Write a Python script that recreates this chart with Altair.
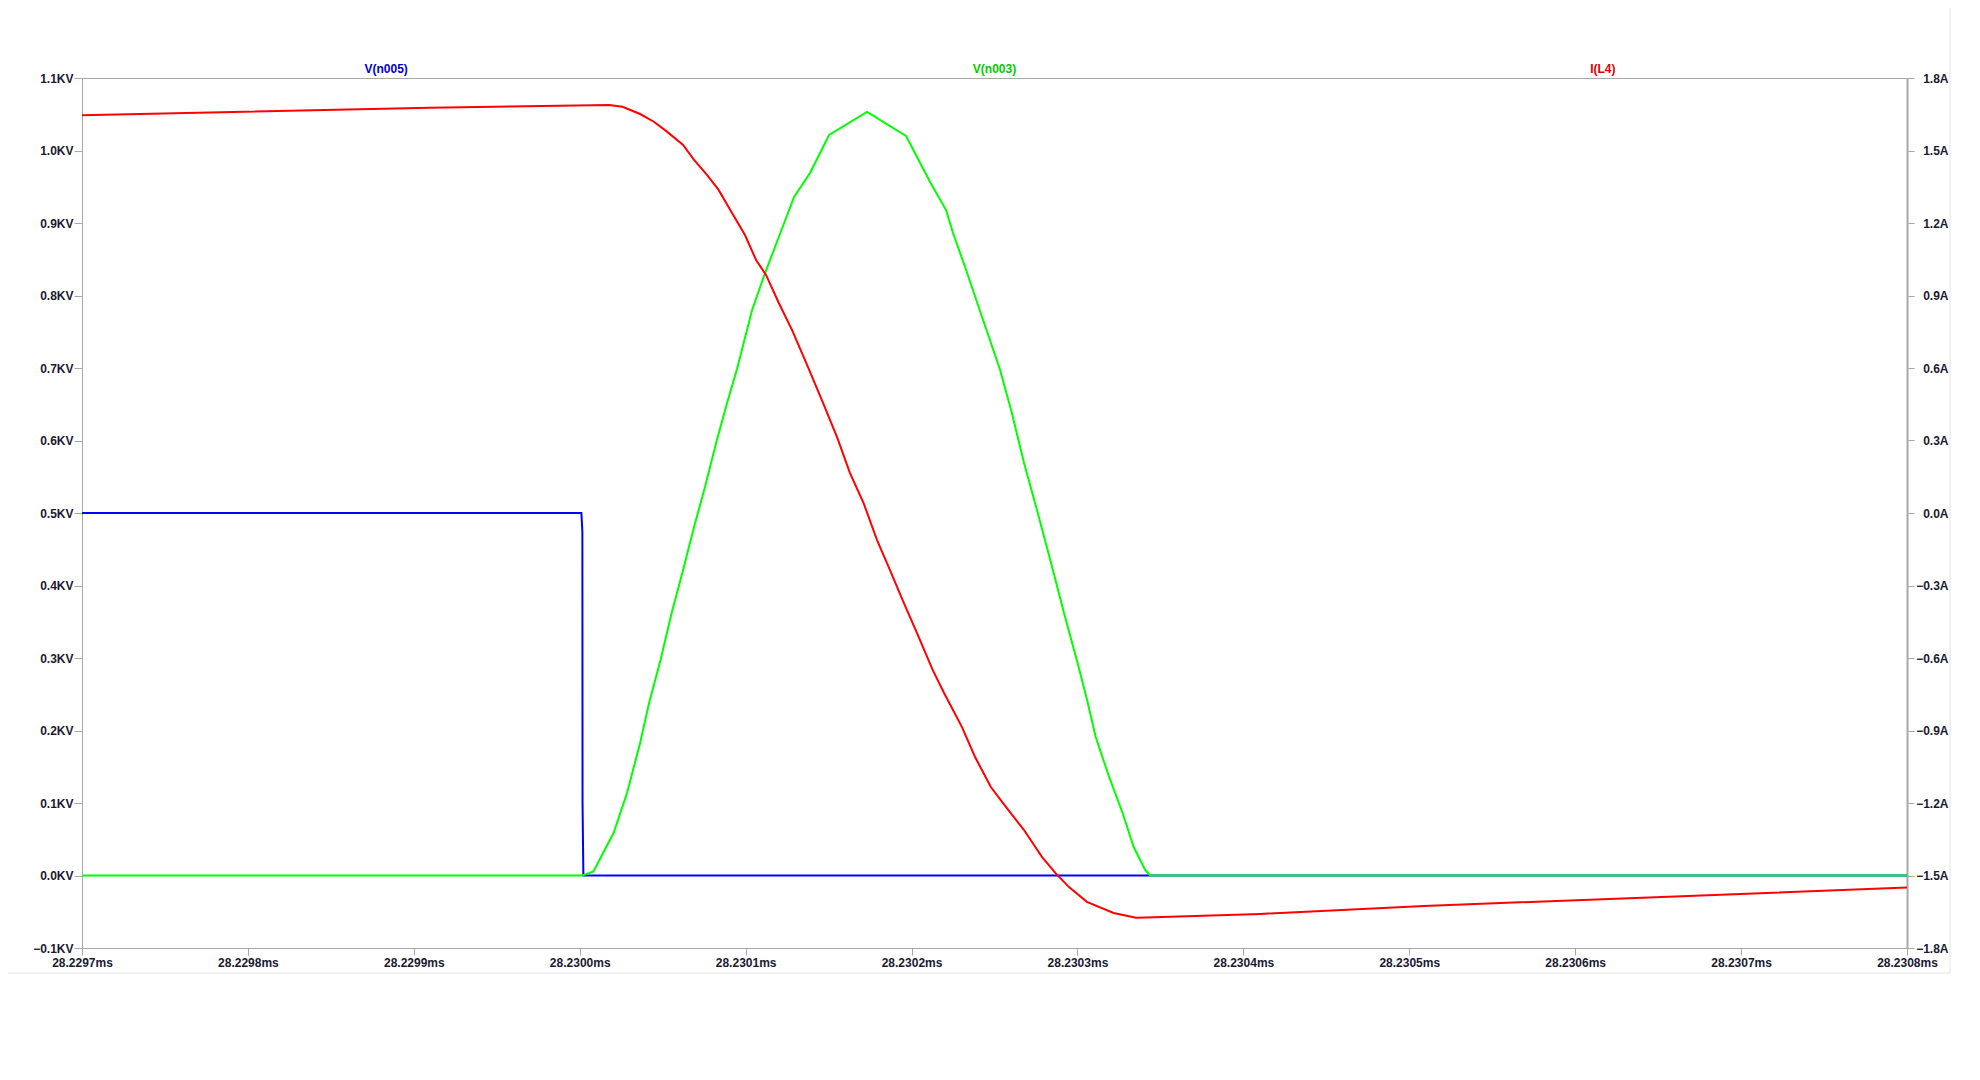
import altair as alt
import pandas as pd

# ---------------- data ----------------
time_ticks = [28.2297, 28.2298, 28.2299, 28.2300, 28.2301, 28.2302,
              28.2303, 28.2304, 28.2305, 28.2306, 28.2307, 28.2308]
volt_ticks = [-0.1, 0.0, 0.1, 0.2, 0.3, 0.4, 0.5, 0.6, 0.7, 0.8, 0.9, 1.0, 1.1]
amp_ticks = [-1.8, -1.5, -1.2, -0.9, -0.6, -0.3, 0.0, 0.3, 0.6, 0.9, 1.2, 1.5, 1.8]

trace_names = ["V(n005)", "V(n003)", "I(L4)"]
trace_colors = ["#0000ff", "#00ff00", "#ff0000"]
title_colors = ["#0000cc", "#00cc00", "#e00000"]

# V(n005) in KV
blue_t = [28.2297000, 28.2300010, 28.2300016, 28.2300017, 28.2300022, 28.2308000]
blue_v = [0.5, 0.5, 0.474, 0.099, 0.0, 0.0]

# V(n003) in KV
green_t = [28.2297000, 28.2300014, 28.2300030, 28.2300083, 28.2300150, 28.2300204,
           28.2300285, 28.2300364, 28.2300418, 28.2300487, 28.2300554, 28.2300623,
           28.2300689, 28.2300755, 28.2300822, 28.2300888, 28.2300948, 28.2301039,
           28.2301117, 28.2301200, 28.2301292, 28.2301388, 28.2301503, 28.2301732,
           28.2301967, 28.2302033, 28.2302115, 28.2302208, 28.2302250, 28.2302329,
           28.2302425, 28.2302532, 28.2302600, 28.2302678, 28.2302761, 28.2302841,
           28.2302919, 28.2303004, 28.2303058, 28.2303110, 28.2303191, 28.2303272,
           28.2303339, 28.2303408, 28.2303438, 28.2308000]
green_v = [0.0, 0.0, 0.001, 0.0055, 0.0352, 0.0586,
           0.1138, 0.1828, 0.2379, 0.2972, 0.3621, 0.4214,
           0.4807, 0.5359, 0.5966, 0.6517, 0.6986, 0.780,
           0.831, 0.8807, 0.9359, 0.969, 1.0214, 1.0531,
           1.020, 0.991, 0.9552, 0.9179, 0.8862, 0.8352,
           0.7703, 0.6986, 0.6421, 0.569, 0.500, 0.431,
           0.3621, 0.2903, 0.2421, 0.191, 0.1359, 0.0862,
           0.0393, 0.0076, 0.0, 0.0]

# I(L4) in A
red_t = [28.2297000, 28.2299098, 28.2300177, 28.2300258, 28.2300364, 28.2300447,
         28.2300526, 28.2300623, 28.2300689, 28.2300767, 28.2300837, 28.2300918,
         28.2300996, 28.2301063, 28.2301123, 28.2301200, 28.2301280, 28.2301376,
         28.2301467, 28.2301551, 28.2301629, 28.2301711, 28.2301792, 28.2301870,
         28.2301954, 28.2302033, 28.2302128, 28.2302196, 28.2302304, 28.2302383,
         28.2302478, 28.2302570, 28.2302678, 28.2302787, 28.2302868, 28.2302949,
         28.2303057, 28.2303218, 28.2303353, 28.2303462, 28.2304101, 28.2305089,
         28.2308000]
red_i = [1.646, 1.677, 1.688, 1.681, 1.651, 1.619,
         1.578, 1.523, 1.461, 1.399, 1.337, 1.241,
         1.150, 1.047, 0.985, 0.869, 0.757, 0.604,
         0.455, 0.314, 0.165, 0.041, -0.112, -0.236,
         -0.373, -0.497, -0.650, -0.745, -0.886, -1.010,
         -1.134, -1.217, -1.312, -1.424, -1.490, -1.548,
         -1.609, -1.655, -1.675, -1.673, -1.659, -1.626,
         -1.550]

# ---------------- chart ----------------
W, H = 1825, 870
FONT = "Liberation Sans"
LABEL_COLOR = "#1a1a33"
AXIS_GRAY = "#a8a8a8"

x_enc = alt.X(
    "t:Q",
    scale=alt.Scale(domain=[time_ticks[0], time_ticks[-1]], nice=False, zero=False),
    axis=alt.Axis(values=time_ticks, labelExpr="format(datum.value, '.4f') + 'ms'",
                  title=None, grid=False, domainColor=AXIS_GRAY, tickColor=AXIS_GRAY,
                  tickSize=7, labelPadding=2, labelFont=FONT, labelFontSize=12,
                  labelFontWeight="bold", labelColor=LABEL_COLOR, labelFlush=False,
                  labelOverlap=False),
)

volt_scale = alt.Scale(domain=[volt_ticks[0], volt_ticks[-1]], nice=False, zero=False)
amp_scale = alt.Scale(domain=[amp_ticks[0], amp_ticks[-1]], nice=False, zero=False)

blue_df = pd.DataFrame({"t": blue_t, "v": blue_v})
green_df = pd.DataFrame({"t": green_t, "v": green_v})
red_df = pd.DataFrame({"t": red_t, "i": red_i})

blue = alt.Chart(blue_df).mark_line(color=trace_colors[0], strokeWidth=2).encode(
    x=x_enc,
    y=alt.Y("v:Q", scale=volt_scale,
            axis=alt.Axis(values=volt_ticks, labelExpr="format(datum.value, '.1f') + 'KV'",
                          title=None, grid=False, orient="left", domainColor=AXIS_GRAY,
                          tickColor=AXIS_GRAY, tickSize=8, labelPadding=1, labelFont=FONT,
                          labelFontSize=12, labelFontWeight="bold", labelColor=LABEL_COLOR,
                          labelOverlap=False, labelFlush=False)),
    order=alt.Order("t:Q"),
)

green = alt.Chart(green_df).mark_line(color=trace_colors[1], strokeWidth=2).encode(
    x=x_enc,
    y=alt.Y("v:Q", scale=volt_scale, axis=None),
    order=alt.Order("t:Q"),
)

red = alt.Chart(red_df).mark_line(color=trace_colors[2], strokeWidth=2).encode(
    x=x_enc,
    y=alt.Y("i:Q", scale=amp_scale,
            axis=alt.Axis(values=amp_ticks, labelExpr="format(datum.value, '.1f') + 'A'",
                          title=None, grid=False, orient="right", domainColor=AXIS_GRAY,
                          domainWidth=2, tickColor=AXIS_GRAY, tickSize=7, labelPadding=34,
                          labelAlign="right",
                          labelFont=FONT, labelFontSize=12, labelFontWeight="bold",
                          labelColor=LABEL_COLOR, labelOverlap=False, labelFlush=False)),
    order=alt.Order("t:Q"),
)

title_fracs = [1 / 6, 1 / 2, 5 / 6]
titles = []
for name, col, frac in zip(trace_names, title_colors, title_fracs):
    titles.append(
        alt.Chart(pd.DataFrame({"label": [name]})).mark_text(
            color=col, font=FONT, fontSize=12, fontWeight="bold",
            align="center", baseline="middle",
        ).encode(x=alt.value(W * frac), y=alt.value(-9), text="label:N")
    )

frame_df = pd.DataFrame({"k": [0]})
frame_v = alt.Chart(frame_df).mark_rule(color="#e2e2e2", strokeWidth=1).encode(
    x=alt.value(1868), y=alt.value(-78), y2=alt.value(895))
frame_h = alt.Chart(frame_df).mark_rule(color="#e2e2e2", strokeWidth=1).encode(
    x=alt.value(-82), x2=alt.value(1868), y=alt.value(895))

chart = alt.layer(blue, green, red, *titles, frame_v, frame_h).resolve_scale(
    y="independent"
).properties(
    width=W, height=H,
    padding={"left": 74, "top": 70, "right": 58, "bottom": 100},
    autosize=alt.AutoSizeParams(type="none"),
    background="white",
).configure_view(stroke=AXIS_GRAY, strokeWidth=1)

chart.save("out.html", embed_options={"renderer": "svg", "actions": False})
